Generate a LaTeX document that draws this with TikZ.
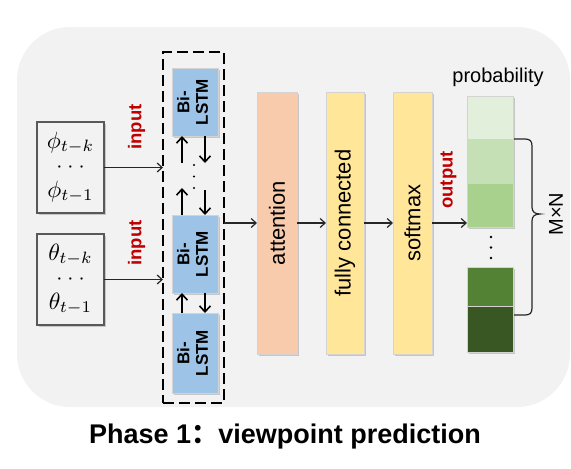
\documentclass[tikz,border=0pt]{standalone}
\usepackage{fontspec}
\setmainfont{Liberation Sans}
\newfontfamily\cjk{Noto Sans CJK SC}
\usepackage{graphicx}
\usetikzlibrary{arrows.meta,shadows}
\definecolor{bgc}{HTML}{F2F2F2}
\definecolor{lstmc}{HTML}{9DC3E6}
\definecolor{attc}{HTML}{F8CBAD}
\definecolor{fcc}{HTML}{FFE699}
\definecolor{redc}{HTML}{C00000}
\definecolor{gA}{HTML}{E2EFDA}
\definecolor{gB}{HTML}{C5E0B4}
\definecolor{gC}{HTML}{A9D18E}
\definecolor{gD}{HTML}{548235}
\definecolor{gE}{HTML}{385723}
\definecolor{edgec}{HTML}{D3D3D3}
\newcommand{\myscm}[1]{\scalebox{2.35}{$#1$}}
\newcommand{\mydotrow}{\scalebox{2.2}{$\cdot$}\hspace{5pt}\scalebox{2.2}{$\cdot$}\hspace{5pt}\scalebox{2.2}{$\cdot$}}
\begin{document}
\begin{tikzpicture}[x=1pt,y=-1pt,
  every node/.style={inner sep=0pt,outer sep=0pt},
  sh/.style={drop shadow={shadow xshift=1.5pt,shadow yshift=-1.5pt,fill=black,opacity=0.18}},
  inbox/.style={draw=black!65,line width=1.4pt,fill=bgc,minimum width=67pt,minimum height=91pt,sh,
     align=center,font=\fontsize{10}{24.5}\selectfont},
  lstm/.style={draw=edgec,line width=0.8pt,fill=lstmc,minimum width=46pt,sh,
     font=\bfseries\fontsize{17}{18.5}\selectfont},
  layerbox/.style={draw=edgec,line width=0.8pt,minimum height=262pt,sh,
     font=\fontsize{22}{24}\selectfont},
  cell/.style={draw=edgec,line width=0.8pt,minimum width=46pt,sh},
  lab/.style={text=redc,font=\bfseries\fontsize{18.5}{20}\selectfont},
  arr/.style={-{Straight Barb[length=5pt,width=9pt]},line width=1.2pt,black!85},
  sarr/.style={-{Straight Barb[length=6pt,width=11pt]},line width=1.6pt,black}
]
\useasboundingbox (0,0) rectangle (571,469);
\fill[bgc,rounded corners=53pt] (17,27) rectangle (570,407);

% input boxes
\node[inbox] (phi) at (70.5,167.5) {\myscm{\phi_{t-k}}\\ \mydotrow\\ \myscm{\phi_{t-1}}};
\node[inbox] (theta) at (70.5,279.5) {\myscm{\theta_{t-k}}\\ \mydotrow\\ \myscm{\theta_{t-1}}};

% group box
\node[draw,line width=2.4pt,dash pattern=on 11pt off 5pt,minimum width=61pt,minimum height=351pt] (grp) at (193.5,227.5) {};

\node[lstm,minimum height=68pt] (l1) at (195,102) {\rotatebox{90}{\begin{tabular}{@{}c@{}}Bi-\\LSTM\end{tabular}}};
\node[lstm,minimum height=78pt] (l2) at (195,254) {\rotatebox{90}{\begin{tabular}{@{}c@{}}Bi-\\LSTM\end{tabular}}};
\node[lstm,minimum height=80pt] (l3) at (195,353) {\rotatebox{90}{\begin{tabular}{@{}c@{}}Bi-\\LSTM\end{tabular}}};

% layers
\node[layerbox,fill=attc,minimum width=40pt] (att) at (277,223) {\rotatebox{90}{attention}};
\node[layerbox,fill=fcc,minimum width=38pt] (fc) at (345,223) {\rotatebox{90}{fully connected}};
\node[layerbox,fill=fcc,minimum width=39pt] (sm) at (412.5,223) {\rotatebox{90}{softmax}};

% probability cells
\node[cell,fill=gA,minimum height=43pt] (c1) at (490,117.5) {};
\node[cell,fill=gB,minimum height=44pt] (c2) at (490,161) {};
\node[cell,fill=gC,minimum height=44pt] (c3) at (490,205) {};
\node[cell,fill=gD,minimum height=39pt] (c4) at (490,286.5) {};
\node[cell,fill=gE,minimum height=46pt] (c5) at (490,329) {};
\foreach \yy in {237,247.5,258} \fill (491,\yy) circle (1.3pt);

\node[font=\fontsize{20}{22}\selectfont] (prob) at (498,77) {probability};
\node[font=\fontsize{20}{22}\selectfont] (mn) at (556,214) {\rotatebox{90}{M×N}};

% labels
\node[lab] (in1) at (136.5,127) {\rotatebox{90}{input}};
\node[lab] (in2) at (136.5,243) {\rotatebox{90}{input}};
\node[lab] (out) at (448.5,180) {\rotatebox{90}{output}};

% connectors
\draw[arr] (phi.east) -- (phi.east -| grp.west);
\draw[arr] (theta.east) -- (theta.east -| grp.west);
\draw[arr] (grp.east |- att.west) -- (att.west);
\draw[arr] (att.east) -- (fc.west);
\draw[arr] (fc.east) -- (sm.west);
\draw[arr] (sm.east) -- (sm.east -| c3.west);

% Bi-LSTM links
\coordinate (u1) at (182,188);
\coordinate (u0) at (182,163);
\coordinate (d0) at (205,163);
\coordinate (d1) at (205,190);
\draw[sarr] (l2.north -| u1) -- (u1);
\draw[sarr] (u0) -- (l1.south -| u0);
\draw[sarr] (l1.south -| d0) -- (d0);
\draw[sarr] (d1) -- (l2.north -| d1);
\draw[sarr] (l3.north -| u1) -- (l2.south -| u1);
\draw[sarr] (l2.south -| d1) -- (l3.north -| d1);
\foreach \yy in {165,176.5,188} \fill (194,\yy) circle (1.2pt);

% brace
\draw[line width=1.2pt,black!85] (514,139) -- (525,139) .. controls (530,139) and (532,141) .. (532,146)
  -- (532,207) .. controls (532,212) and (535,214) .. (540,214)
  .. controls (535,214) and (532,216) .. (532,221)
  -- (532,308) .. controls (532,313) and (530,315) .. (525,315) -- (514,315);

% title
\node[anchor=base,font=\bfseries\fontsize{27}{30}\selectfont] (title) at (285,443) {Phase 1{\cjk ：}viewpoint prediction};
\end{tikzpicture}
\end{document}
